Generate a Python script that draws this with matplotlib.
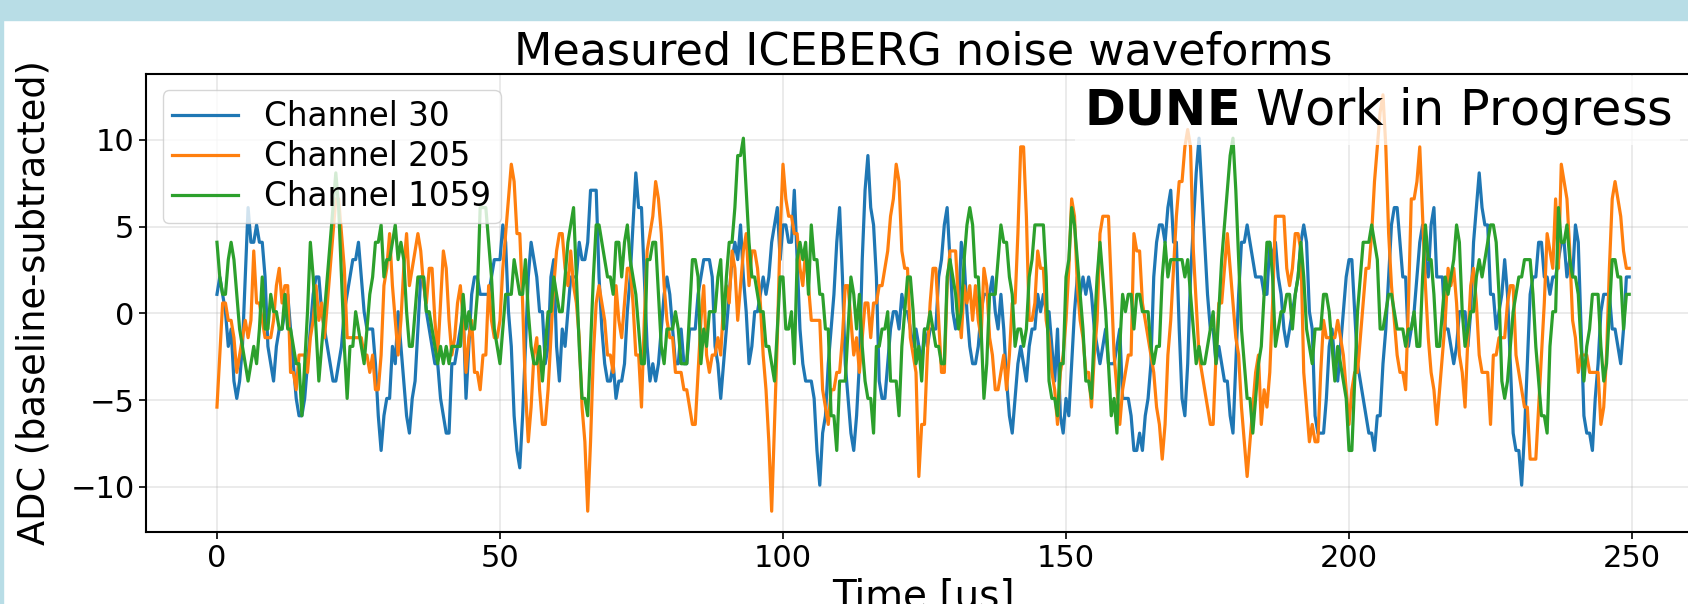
import numpy as np
import matplotlib
matplotlib.use("Agg")
import matplotlib.pyplot as plt
from matplotlib.patches import Rectangle

# sampling: 0.5 us per tick, 500 ticks per channel
tick_us = 0.5
channels = ["Channel 30", "Channel 205", "Channel 1059"]

# ADC counts relative to the rounded pedestal
ch30_adc = [
    1, 2, 1, 0, -2, -1, -4, -5, -4, -2, 2, 6, 4, 4, 5, 4, 4, 2, -2, -3,
    -4, -2, -1, -1, 0, 1, -1, -3, -5, -6, -6, -5, -3, -1, 1, 2, 2, 0, -1, -2,
    -3, -4, -4, -3, -2, 0, 1, 2, 3, 3, 4, 2, 0, -1, -1, -1, -3, -6, -8, -6,
    -5, -5, -2, -3, 0, -2, -4, -6, -7, -5, -4, -1, 2, 2, 0, -1, -2, -3, -3, -5,
    -6, -7, -7, -3, -3, -2, -1, 0, -5, -2, 1, 2, 2, 1, 1, 1, 1, 2, 3, 3,
    3, 5, 4, 0, -2, -6, -8, -9, -6, -2, 2, 4, 3, 2, 0, 0, -3, -2, 2, 3,
    -2, -4, -1, -2, 0, 2, 2, 2, 4, 3, 3, 4, 7, 7, 7, 2, -1, -3, -4, -4,
    -3, -5, -4, -4, -3, 0, 2, 5, 8, 6, 6, 2, -2, -4, -3, -4, -3, -1, 1, 2,
    1, -1, -3, -3, -1, -3, -3, -1, -1, -1, 1, 2, 3, 3, 3, 2, -2, -3, -5, -3,
    -1, 1, 3, 4, 3, 5, 2, 0, -3, -2, 0, 0, 1, 2, 1, 2, 4, 5, 6, 3,
    5, 5, 4, 4, 7, 3, -1, -3, -4, -4, -4, -5, -8, -10, -7, -6, -3, -1, 1, 4,
    6, 2, -3, -5, -7, -8, -6, -3, 3, 7, 9, 6, 5, 2, -4, -5, -5, -3, -1, 0,
    0, -1, 1, 0, 0, -1, -2, -1, -2, -3, -1, -2, -1, -1, -1, 2, 3, 5, 6, 3,
    0, -1, 0, 4, 3, 0, -2, -3, -3, -2, 0, 1, 1, 1, 2, 0, -1, 1, -1, -4,
    -6, -7, -5, -3, -2, -3, -4, -2, -1, -1, 1, 0, 1, 0, 0, -2, -4, -1, -6, -7,
    -5, -6, -3, 0, 2, 1, 2, 1, 2, 1, -1, -2, -3, -2, -1, -3, -3, -3, -2, -1,
    -5, -5, -5, -6, -8, -8, -7, -8, -6, -5, -3, 2, 4, 5, 5, 4, 6, 7, 4, 4,
    -1, -5, -6, -3, 2, 5, 8, 10, 7, 4, 1, -1, -1, -3, -2, -3, -4, -4, -6, -7,
    -3, 1, 4, 4, 5, 4, 3, 2, 2, 2, 1, 1, 4, 3, 4, 2, 1, -1, -2, -1,
    0, 1, 2, 4, 5, 4, 0, -1, -6, -7, -7, -7, -5, -2, -1, -3, -4, -2, 0, 2,
    3, 3, 0, -3, -4, -5, -6, -7, -7, -8, -6, -6, -3, -1, 2, 5, 6, 6, 4, 2,
    2, -2, -1, 0, 2, 4, 5, 3, 2, 5, 6, 2, 2, 2, -1, -1, -2, -3, -2, 0,
    0, 0, -2, 0, 4, 6, 8, 6, 5, 5, 1, 1, -1, 0, 1, 3, 1, -3, -7, -8,
    -8, -10, -7, -3, 1, 2, 2, 4, 4, 2, 2, 1, 2, 2, 3, 4, 4, 2, 3, 2,
    5, 4, -1, -6, -7, -7, -8, -5, -3, 0, 1, 1, 1, -1, -1, -2, -3, -1, 2, 2,
]

ch205_adc = [
    -5, -2, 1, 1, 0, 0, -1, -3, -2, -1, 0, -1, 0, 4, 1, 1, 0, -1, -1, -1,
    0, 2, 3, 1, 2, 2, -3, -3, -4, -2, -2, -2, -3, -1, 0, 2, 0, 1, -1, 1,
    3, 5, 7, 7, 5, 3, -1, -1, -1, -1, -1, -1, -2, -2, -3, -2, -4, -4, -2, 2,
    3, 5, 2, 0, -2, 0, 3, 5, 2, 3, 4, 5, 4, 2, 1, 3, 3, 0, -2, 1,
    4, 3, 0, -2, -1, 1, 2, 0, -3, -1, 0, -3, -3, -4, -2, -2, 2, 0, -1, -1,
    0, 3, 5, 7, 9, 8, 5, 5, 1, -4, -7, -5, -2, -1, -4, -6, -6, -4, -1, 2,
    4, 5, 5, 3, 2, 4, 2, 1, -1, -5, -7, -11, -7, -2, 1, 2, 1, 0, -2, -2,
    -3, 2, 0, -1, 1, 3, 3, 1, -2, -2, -5, 0, 4, 5, 6, 8, 7, 5, 2, 0,
    -1, -1, -3, -3, -3, -4, -4, -5, -6, -6, -3, 0, 2, -2, -3, -2, -2, -1, -2, 1,
    2, 1, 4, 3, 0, 2, 4, 5, 2, 4, 4, 3, 1, -2, -4, -7, -11, -6, -1, 5,
    9, 7, 6, 6, 5, 5, 3, 2, 4, 2, 0, 0, 0, 0, -4, -5, -6, -4, -4, -3,
    -3, -1, 2, 2, 0, -2, -1, -3, -1, 1, 1, -1, 1, 1, 2, 2, 3, 4, 6, 7,
    9, 8, 4, 3, 3, -1, -2, -3, -9, -6, -6, -2, 1, 3, 3, 0, -3, -3, 2, 4,
    4, 4, 1, -1, 2, 1, 2, 0, 2, 0, -1, 3, 2, -1, -2, -4, -4, -3, -2, -4,
    -2, 1, 1, 5, 10, 10, 6, 0, 0, 1, 4, 3, 3, 0, -1, -3, -4, -6, -3, -2,
    0, 3, 7, 6, 2, 0, -1, -3, -3, -5, -2, 0, 5, 6, 6, 6, 2, -2, -4, -6,
    -4, -3, -2, -2, 5, 4, 4, 1, 0, -1, -2, -3, -5, -6, -8, -6, -2, 0, 3, 6,
    8, 8, 10, 11, 10, 4, 1, -2, -3, -4, -5, -6, -6, -2, 1, 1, 3, 5, 3, 1,
    -1, -2, -5, -7, -9, -7, -5, -3, -2, -6, -4, -5, -3, 1, 6, 6, 6, 6, 3, 2,
    3, 5, 5, 4, -3, -5, -7, -6, -7, -7, -3, 0, -1, -1, -1, -1, 0, -1, -2, -4,
    -6, -4, -3, -3, -1, 1, 3, 3, 5, 8, 10, 12, 13, 10, 5, 2, 0, -2, -3, -3,
    -4, 1, 7, 7, 8, 10, 6, 2, -1, -3, -4, -6, -4, -2, 0, 3, 2, 3, 1, -2,
    -3, -5, -1, 2, 3, 1, -2, -3, -3, -3, -6, -2, -2, -1, -1, -1, 1, 2, 2, -2,
    -3, -4, -5, -5, -8, -8, -8, -5, -2, 1, 5, 4, 3, 7, 3, 9, 8, 7, 4, 0,
    -1, -3, -2, -2, -2, -3, -3, -3, -3, -6, -5, -2, 3, 7, 8, 7, 6, 4, 3, 3,
]

ch1059_adc = [
    4, 2, 1, 1, 3, 4, 3, 1, -1, -2, -3, -4, -3, -2, -3, -1, 2, -1, -1, 1,
    0, 0, -1, -1, 1, -1, -1, -2, -3, -3, -6, -3, 0, 4, 2, -1, -4, -2, 0, 2,
    4, 6, 8, 6, 2, -2, -5, -2, -2, 0, -1, -2, -3, -1, 1, 2, 4, 4, 5, 2,
    3, 3, 4, 5, 3, 4, 3, 0, -2, -2, 0, 2, 2, 2, 0, 0, -1, -2, -3, -2,
    -3, -2, -3, -2, -2, -2, -2, 1, -1, 0, -1, -1, 1, 6, 6, 6, 4, 2, -1, -2,
    -3, -1, 1, 1, 1, 3, 2, 1, 1, 3, 0, -2, -3, -3, -2, -4, -2, 0, 0, 2,
    1, 0, 0, 2, 4, 5, 6, 2, -2, -5, -5, -6, -2, 2, 5, 5, 4, 3, 2, 2,
    1, 4, 4, 2, 4, 5, 3, 2, 1, -1, -3, -3, 3, 3, 4, 4, 1, -2, -3, -1,
    -1, -1, 0, -1, -3, -3, -3, 0, 3, 3, 2, -3, -1, -2, 0, 0, 0, 2, 3, -1,
    2, 4, 4, 6, 9, 9, 10, 7, 4, 2, 2, 1, 0, 0, -2, -2, -3, -4, -1, 2,
    2, -1, -1, 0, -3, 3, 4, 3, 4, 1, 5, 3, 3, 1, 1, -1, -1, -6, -6, -8,
    -4, -4, -4, -1, 2, 1, -1, 1, -2, -4, -5, -5, -7, -2, -2, -1, -1, 0, -4, -4,
    -4, -6, -2, 0, 2, 2, 0, -3, -2, -4, -1, -1, 0, -1, -2, -2, -3, -3, 2, 3,
    2, 1, -1, 0, 3, 5, 6, 5, 2, 2, -1, -5, -3, 1, 1, 1, 3, 5, 4, 4,
    2, 1, -2, -1, -1, -2, -1, 2, 3, 5, 5, 5, 5, 2, -4, -5, -5, -6, -3, -3,
    2, 3, 6, 5, 3, 1, -1, -4, -4, -5, -1, 2, 4, 2, 0, -3, -6, -5, -7, -2,
    1, 0, 1, 1, -1, 1, 1, 0, 0, 0, -2, -3, -2, -2, 2, 4, 2, 3, 3, 3,
    3, 3, 2, 3, 1, -1, -3, -2, -3, -3, -2, -1, 0, -3, 0, 3, 5, 7, 9, 10,
    7, 3, -1, -3, -5, -5, -7, -5, -3, -2, 1, 4, 4, 2, -2, -1, 0, 0, 1, 1,
    -1, 1, 2, 4, 2, -1, -2, -3, -1, -1, -1, 1, 1, 0, -2, -4, -2, -3, -4, -5,
    -8, -8, -4, 0, 2, 4, 4, 4, 5, 4, 3, -1, -1, 0, 1, 1, 0, -1, -1, -1,
    -2, -1, -1, 0, -2, -2, 2, 5, 3, 3, 1, -2, -2, 0, 2, 1, 2, 3, 5, 4,
    0, -2, -1, 0, 0, 2, 3, 2, 3, 4, 5, 5, 4, 1, -4, -5, -4, -2, 0, 1,
    2, 2, 3, 3, 3, 1, -2, -4, -6, -6, -7, -2, 0, 0, 6, 4, 4, 5, 3, 2,
    2, 1, -2, -4, -2, -1, 1, 1, 1, -2, -4, -3, 0, 3, 3, 2, 2, -1, 1, 1,
]

# fractional part left over from the pedestal subtraction
pedestal_offset = [0.1, -0.4, 0.1]

fig = plt.figure(figsize=(16.88, 6.04), dpi=100)
ax = fig.add_axes([0.0867, 0.1192, 0.9203, 0.7583])

for name, adc, off in zip(channels, [ch30_adc, ch205_adc, ch1059_adc], pedestal_offset):
    wf = np.array(adc, dtype=float) + off
    t = np.arange(len(wf)) * tick_us
    ax.plot(t, wf, lw=2.3, label=name)

ax.set_xlim(-12.475, 261.975)
ax.set_ylim(-12.6, 13.8)
ax.grid(True, alpha=0.3, lw=1.2)
ax.tick_params(labelsize=22, width=1.2, length=5)
for sp in ax.spines.values():
    sp.set_linewidth(1.5)

ax.set_title("Measured ICEBERG noise waveforms", fontsize=32, pad=2)
ax.set_ylabel("ADC (baseline-subtracted)", fontsize=26.5, labelpad=13)
ax.set_xlabel("Time [us]", fontsize=28)
ax.legend(loc="upper left", fontsize=23.5, labelspacing=0.22, borderpad=0.3)
ax.text(0.982, 0.92, r"$\bf{DUNE}$ Work in Progress", transform=ax.transAxes,
        ha="right", va="center", fontsize=35.5,
        bbox=dict(facecolor="white", alpha=0.75, edgecolor="none", pad=6))

# slide frame around the picture
fig.patches.append(Rectangle((0, 1 - 20 / 604), 1, 20 / 604, transform=fig.transFigure,
                             color="#b8dde6", zorder=5))
fig.patches.append(Rectangle((0, 0), 3 / 1688, 1, transform=fig.transFigure,
                             color="#b8dde6", zorder=5))

fig.savefig("out.png", dpi=100)
